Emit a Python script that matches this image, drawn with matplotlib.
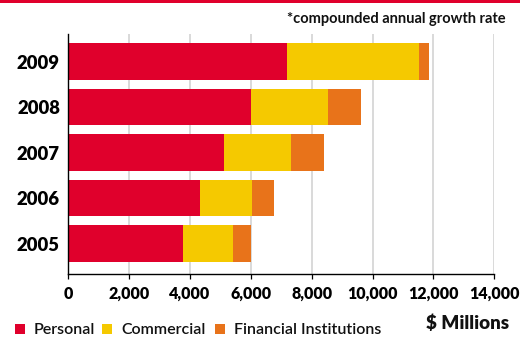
import matplotlib
matplotlib.use("Agg")
import matplotlib.pyplot as plt
from matplotlib.patches import Rectangle
import numpy as np

years = ["2005", "2006", "2007", "2008", "2009"]
personal = [3770, 4330, 5120, 6000, 7190]
commercial = [1640, 1710, 2200, 2530, 4330]
financial = [590, 720, 1080, 1090, 330]
x_ticks = [0, 2000, 4000, 6000, 8000, 10000, 12000, 14000]
x_tick_labels = ["0", "2,000", "4,000", "6,000", "8,000", "10,000", "12,000", "14,000"]
series_names = ["Personal", "Commercial", "Financial Institutions"]

RED = "#E0002C"
YELLOW = "#F5C900"
ORANGE = "#E8731A"
colors = [RED, YELLOW, ORANGE]

plt.rcParams["font.family"] = ["Lato", "DejaVu Sans"]

W, H = 530, 337
fig = plt.figure(figsize=(W / 100, H / 100), dpi=100)


def fx(px):
    return px / W


def fy(py):
    return 1 - py / H


ax = fig.add_axes([fx(68.3), fy(274), fx(494.3) - fx(68.3), fy(33.8) - fy(274)])

y = np.arange(len(years))
left = np.zeros(len(years))
for vals, col in zip([personal, commercial, financial], colors):
    ax.barh(y, vals, left=left, height=0.81, color=col, linewidth=0, zorder=3)
    left = left + np.array(vals)

ax.set_xlim(0, 14000)
ax.set_ylim(-0.67, 4.61)
ax.set_xticks(x_ticks)
ax.set_xticklabels(x_tick_labels, fontsize=11.5, fontweight="heavy")
ax.set_yticks(y)
ax.set_yticklabels(years, fontsize=13.3, fontweight="heavy")

ax.set_axisbelow(True)
ax.xaxis.grid(True, color="#cfcfcf", linewidth=1.1, zorder=0)
ax.yaxis.grid(False)

for s in ["top", "right"]:
    ax.spines[s].set_visible(False)
for s in ["left", "bottom"]:
    ax.spines[s].set_color("black")
    ax.spines[s].set_linewidth(1.0)
    ax.spines[s].set_zorder(4)

ax.tick_params(axis="x", direction="out", length=3.6, width=0.9, color="black", pad=5)
ax.tick_params(axis="y", length=0, pad=6)

# red rule across the top
fig.patches.append(Rectangle((0, fy(3)), fx(520), fy(0) - fy(3),
                             transform=fig.transFigure, color=RED, lw=0))

fig.text(fx(506), fy(23), "*compounded annual growth rate", ha="right", va="baseline",
         fontsize=10.5, fontweight="bold", color="#111111")

fig.text(fx(509), fy(329), "$ Millions", ha="right", va="baseline",
         fontsize=13.5, fontweight="heavy", color="#111111")

# legend
legend_pos = [(14.5, 33.5), (101.5, 121.5), (214.5, 233.5)]
for (sx, tx), name, col in zip(legend_pos, series_names, colors):
    fig.patches.append(Rectangle((fx(sx), fy(334)), fx(10), fy(324) - fy(334),
                                 transform=fig.transFigure, color=col, lw=0))
    fig.text(fx(tx), fy(334), name, ha="left", va="baseline",
             fontsize=11.5, fontweight="semibold", color="#111111")

fig.savefig("out.png", dpi=100)
